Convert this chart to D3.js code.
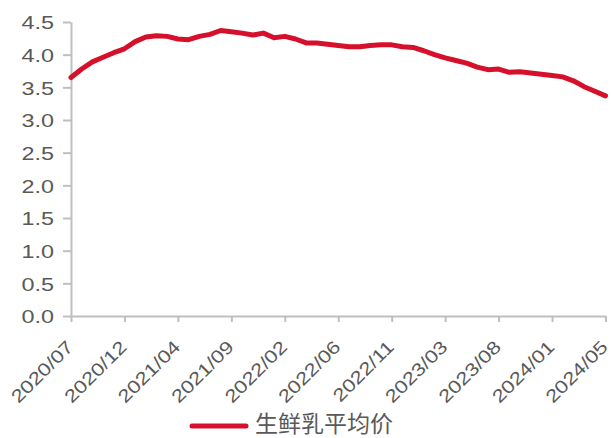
<!DOCTYPE html>
<html>
<head>
<meta charset="utf-8">
<script src="https://cdn.jsdelivr.net/npm/d3@7/dist/d3.min.js"></script>
<style>
  html, body { margin: 0; padding: 0; background: #fff; }
  svg { display: block; }
  .axis text { font-family: "Liberation Sans", Arial, sans-serif; font-size: 18px; fill: #595959; }
  .axis path, .axis line { stroke: #bfbfbf; stroke-width: 2; }
</style>
</head>
<body>
<div class="chart"></div>
<script>
// week tick labels (one every 20 weeks)
var tickLabels = ["2020/07", "2020/12", "2021/04", "2021/09", "2022/02", "2022/06",
  "2022/11", "2023/03", "2023/08", "2024/01", "2024/05"];
var weeksPerTick = 20;
var weeksPerPoint = 4;

// 生鲜乳平均价 (元/公斤), read every 4 weeks
var milkPrice = [3.65, 3.78, 3.89, 3.96, 4.03, 4.09, 4.20, 4.27, 4.29, 4.28,
  4.24, 4.23, 4.28, 4.31, 4.37, 4.35, 4.33, 4.30, 4.33, 4.26,
  4.28, 4.24, 4.18, 4.18, 4.16, 4.14, 4.12, 4.12, 4.14, 4.15,
  4.15, 4.12, 4.11, 4.06, 4.00, 3.95, 3.91, 3.87, 3.81, 3.77,
  3.78, 3.73, 3.74, 3.72, 3.70, 3.68, 3.66, 3.60, 3.51, 3.44, 3.37];
var seriesName = "生鲜乳平均价";

var yTicks = [0, 0.5, 1, 1.5, 2, 2.5, 3, 3.5, 4, 4.5];

var width = 611, height = 438;
var margins = { top: 22, right: 5.5, bottom: 122, left: 71 };
var chartWidth = width - margins.left - margins.right;
var chartHeight = height - margins.top - margins.bottom;
var stretchY = 1.3;
var stretchX = 1.22;

var svg = d3.select("div.chart")
  .append("svg")
  .attr("width", width)
  .attr("height", height);

var chartElement = svg.append("g")
  .attr("transform", `translate(${margins.left},${margins.top})`);

var lastWeek = weeksPerTick * (tickLabels.length - 1);

var xScale = d3.scaleLinear()
  .domain([0, lastWeek])
  .range([0, chartWidth]);

var yScale = d3.scaleLinear()
  .domain([0, 4.5])
  .range([chartHeight, 0]);

var xAxis = d3.axisBottom(xScale)
  .tickValues(d3.range(0, lastWeek + 1, weeksPerTick))
  .tickFormat((d, i) => tickLabels[i])
  .tickSize(6)
  .tickSizeOuter(0);

var yAxis = d3.axisLeft(yScale)
  .tickValues(yTicks)
  .tickFormat(d3.format(".1f"))
  .tickSize(8)
  .tickSizeOuter(0);

chartElement.append("g")
  .attr("class", "x axis")
  .attr("transform", `translate(0,${chartHeight})`)
  .call(xAxis)
  .selectAll("text")
  .attr("x", 0)
  .attr("y", 0)
  .attr("dy", 0)
  .attr("text-anchor", "end")
  .attr("transform", `translate(3,32) rotate(-45) scale(${stretchX},1)`);

chartElement.append("g")
  .attr("class", "y axis")
  .call(yAxis)
  .selectAll("text")
  .attr("x", -17 / stretchY)
  .attr("dy", "0.38em")
  .attr("transform", `scale(${stretchY},1)`);

var line = d3.line()
  .x((d, i) => xScale(i * weeksPerPoint))
  .y(d => yScale(d));

chartElement.append("path")
  .datum(milkPrice)
  .attr("d", line)
  .attr("fill", "none")
  .attr("stroke", "#d6102b")
  .attr("stroke-width", 5)
  .attr("stroke-linejoin", "round")
  .attr("stroke-linecap", "round");

// legend
var legend = svg.append("g").attr("class", "legend");
legend.append("line")
  .attr("x1", 192).attr("x2", 246)
  .attr("y1", 426).attr("y2", 426)
  .attr("stroke", "#d6102b")
  .attr("stroke-width", 5)
  .attr("stroke-linecap", "round");
legend.append("text")
  .attr("x", 255)
  .attr("y", 432)
  .attr("font-family", "'Noto Sans CJK SC', sans-serif")
  .attr("font-size", 23)
  .attr("fill", "#595959")
  .text(seriesName);
</script>
</body>
</html>
